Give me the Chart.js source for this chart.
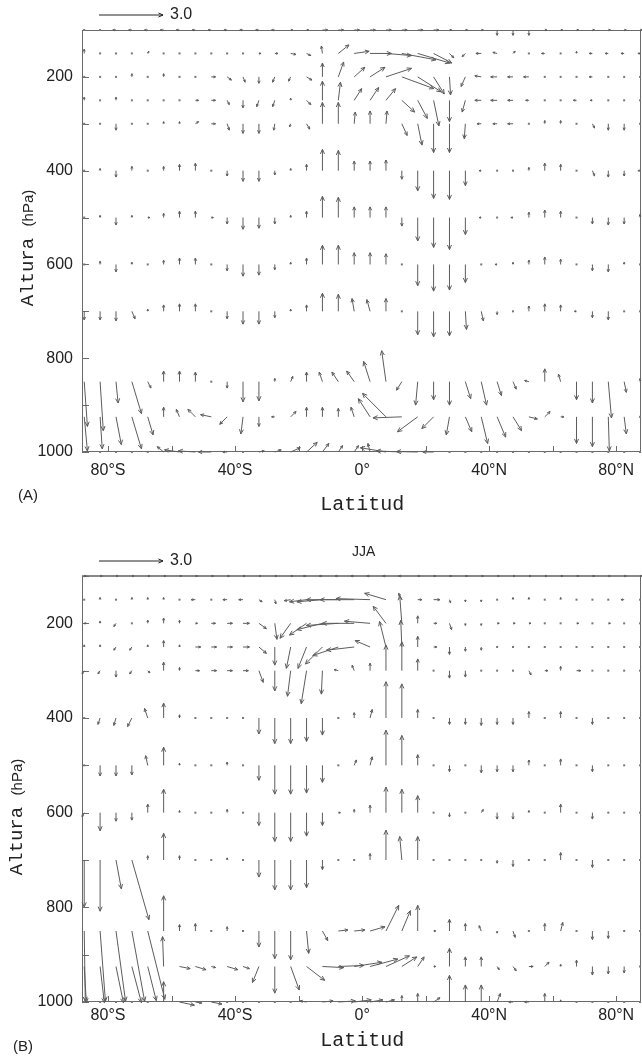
<!DOCTYPE html>
<html>
<head>
<meta charset="utf-8">
<style>
  body { margin: 0; background: #fff; }
  canvas { display: block; }
</style>
<script src="https://cdn.jsdelivr.net/npm/chart.js@4.4.1/dist/chart.umd.min.js"></script>
</head>
<body>
<canvas id="chartA" width="642" height="528"></canvas>
<canvas id="chartB" width="642" height="529"></canvas>
<script>
// grid of the vector field
const lats = [-87.5,-82.5,-77.5,-72.5,-67.5,-62.5,-57.5,-52.5,-47.5,-42.5,-37.5,-32.5,
  -27.5,-22.5,-17.5,-12.5,-7.5,-2.5,2.5,7.5,12.5,17.5,22.5,27.5,
  32.5,37.5,42.5,47.5,52.5,57.5,62.5,67.5,72.5,77.5,82.5,87.5]
const levels = [100,150,200,250,300,400,500,600,700,850,925,1000]

const yTicks = [100,200,300,400,500,600,700,800,900,1000]
const yLabels = [200,400,600,800,1000]
const xTicks = [-80,-60,-40,-20,0,20,40,60,80]
const xLabelAt = [-80,-40,0,40,80]
const xLabels = ['80°S','40°S','0°','40°N','80°N']

// panel A: meridional (v) and vertical (w) components, one row per level
const vA = [
  [0,0,-.15,-.15,-.15,-.15, -.15,-.15,-.15,-.15,-.15,-.15, -.15,.1,.1,.25,.25,.25, .25,.25,.25,.25,.25,.1, .1,.1,0,0,0,.1, .1,.1,.1,.1,.1,.1],
  [0,0,.05,.05,.05,0, .05,.05,.05,.05,.05,.1, .15,.25,.2,-.05,.5,.7, 1.0,1.2,1.6,1.5,.85,.2, -.15,-.25,-.2,.1,0,-.15, 0,0,-.15,-.15,-.15,-.1],
  [0,0,0,0,0,0, 0,.05,.2,.2,.1,0, -.1,-.1,.25,0,.25,.5, .7,1.2,1.5,1.1,.5,.05, -.2,-.3,-.3,-.25,-.25,0, 0,0,-.15,0,0,0],
  [0,0,0,0,0,0, 0,.15,.2,.1,0,-.1, -.1,0,.2,0,.1,.35, .4,.45,.6,.45,.25,0, -.15,-.3,-.3,-.25,-.15,0, 0,-.15,-.1,0,0,0],
  [0,0,0,0,0,0, 0,.15,.2,.1,0,0, -.05,-.05,.15,0,0,.05, 0,.05,.25,.2,0,0, -.05,-.2,-.2,-.25,0,0, 0,0,.1,0,0,0],
  [0,0,0,0,0,0, 0,0,0,0,0,0, 0,0,0,0,0,0, 0,0,0,0,0,0, 0,-.1,0,0,0,0, 0,.05,.1,0,0,-.1],
  [0,0,0,0,.1,0, 0,0,.1,0,0,0, 0,0,0,0,0,0, 0,0,0,0,0,0, 0,-.1,0,-.1,0,0, 0,0,0,0,0,0],
  [0,0,0,0,0,0, 0,0,.05,0,0,0, 0,0,0,0,0,0, 0,0,0,0,0,0, 0,0,-.1,0,0,0, 0,0,0,0,0,0],
  [0,0,0,.15,0,0, 0,0,0,0,0,0, 0,0,0,0,0,-.1, -.15,0,0,0,0,0, .05,.1,0,0,0,0, 0,-.1,0,0,0,0],
  [.15,.15,.1,.45,.15,0, 0,0,0,0,0,0, 0,.1,0,-.15,-.3,-.35, -.3,-.2,-.25,-.1,0,0, .25,.25,.2,.15,-.2,0, -.1,0,0,.15,.1,0],
  [.15,.1,.25,.45,.25,0, -.15,-.35,-.5,-.35,-.1,0, -.15,.25,0,0,0,-.15, -.55,-1.1,-1.35,-.95,-.55,-.15, .3,.3,.4,.4,.4,.25, .15,0,0,.05,.1,0],
  [0,0,0,0,0,-.3, -.7,-.8,-.6,-.2,0,.25, .3,.45,.5,.3,.2,.2, -.1,-1.2,-1.2,-1.0,-.5,0, 0,0,0,0,0,0, 0,0,0,0,0,0]
]
const wA = [
  [0,0,0,0,0,0, 0,0,0,0,0,0, 0,0,0,0,0,0, 0,0,0,0,0,0, 0,0,-.25,-.25,-.25,0, 0,0,0,0,0,0],
  [.2,0,0,0,.1,0, 0,0,0,0,0,0, 0,-.05,-.1,.35,.4,.1, 0,-.1,-.3,-.45,-.45,-.2, -.15,0,.05,.1,0,0, 0,.1,0,0,0,0],
  [0,0,0,.15,0,.15, 0,0,0,-.15,-.25,-.3, -.25,-.2,-.15,.65,.7,.45, .45,.4,-.55,-.7,-.8,-.85, -.45,.05,0,0,0,0, 0,0,0,0,0,0],
  [.15,0,.15,0,0,0, 0,0,0,-.2,-.35,-.3, -.3,.1,-.2,.9,.85,.55, .6,.55,-.55,-.85,-1.2,-1.0, -.55,0,0,0,0,0, 0,0,0,0,0,0],
  [0,0,-.3,0,0,.1, .1,.1,0,-.3,-.45,-.45, -.3,-.15,-.25,1.0,1.0,.55, .6,.6,-.55,-1.0,-1.35,-1.35, -.7,0,0,0,0,.15, .15,0,-.2,-.3,-.3,0],
  [0,.1,-.3,.2,0,.2, .3,.35,0,-.25,-.5,-.5, -.2,.1,.3,1.0,.95,.45, .45,.5,-.4,-.95,-1.3,-1.35, -.7,0,0,0,.15,.35, .3,0,-.25,-.3,-.25,0],
  [0,.1,-.35,.1,0,.2, .3,.3,0,-.3,-.55,-.5, -.3,.1,.3,1.0,.95,.5, .5,.5,-.4,-1.1,-1.4,-1.5, -.8,0,0,0,.25,.35, .3,0,-.3,-.35,-.3,.15],
  [0,.15,-.35,.1,0,.2, .3,.3,0,-.3,-.55,-.5, -.25,.1,.3,.9,.9,.55, .55,.5,0,-1.0,-1.25,-1.2, -.85,0,0,.1,.2,.35, .25,0,-.3,-.35,.1,0],
  [-.4,-.4,-.45,-.35,.1,.3, .35,.35,0,-.35,-.6,-.6, -.3,.1,.3,.85,.8,.6, .55,.6,0,-1.1,-1.2,-1.15, -.85,-.45,-.15,0,.25,.35, .3,0,-.3,-.4,0,0],
  [-2.1,-2.3,-1.0,-1.5,-.3,.5, .5,.45,0,-.3,-.95,-.9, .15,.25,.45,.45,.45,.5, .95,1.45,-.4,-1.1,-.85,-1.1, -.8,-1.1,-.65,-.35,.05,.6, .35,-.85,-1.0,-1.7,-.5,.15],
  [-1.6,-1.5,-1.3,-1.5,-.85,.45, .35,.35,.1,-.35,-.8,-.45, 0,.25,.45,.45,.4,.45, .85,1.1,-.05,-.7,-.55,-.85, -.7,-1.25,-.95,-.65,-.1,.25, 0,-1.25,-1.4,-1.6,-.8,0],
  [0,0,0,0,0,.25, .1,.05,0,0,0,.05, .1,.2,.45,.4,.3,.3, .4,.2,.05,.02,0,0, 0,0,0,0,0,0, 0,0,0,0,0,0]
]

// panel B (JJA)
const vB = [
  [.1,.1,.1,.1,.1,.1, .1,.1,.1,.1,.1,.1, .1,.1,-.15,-.15,-.15,-.15, -.15,-.15,-.15,.1,.1,.1, .1,.1,.1,.1,.1,.1, .1,.1,.1,.1,.1,.1],
  [0,0,0,0,0,0, 0,-.2,0,-.2,-.2,.15, .05,-.3,-.8,-1.2,-1.5,-1.6, -1.6,-1.0,-.15,.2,.3,.05, 0,0,0,0,0,0, 0,0,0,0,-.15,0],
  [.1,0,-.1,0,0,0, 0,.1,.2,.25,.3,.35, .1,-.5,-.8,-1.2,-1.5,-1.5, -1.2,-.6,-.1,0,.15,.1, 0,0,.1,.1,.1,0, 0,.1,0,.1,0,0],
  [0,0,-.1,-.1,0,0, 0,.25,.25,.25,.3,.35, 0,-.2,-.4,-.8,-1.2,-1.3, -.7,-.3,-.05,0,.15,0, 0,0,0,0,0,0, 0,0,0,0,0,0],
  [-.1,-.1,0,-.1,.1,0, 0,.2,.25,.25,.25,.2, 0,-.15,-.25,-.05,-.2,-.1, 0,0,0,0,0,0, 0,0,0,0,.1,.15, 0,.2,0,0,0,0],
  [0,-.1,-.1,-.2,-.15,0, 0,0,0,0,0,0, 0,0,0,0,0,0, .1,0,0,0,0,0, 0,0,0,0,0,0, 0,0,0,0,0,0],
  [0,0,0,0,-.1,0, 0,0,0,0,0,0, 0,0,0,0,0,.1, .1,0,0,0,0,0, 0,0,0,0,0,0, 0,0,0,0,0,0],
  [-.1,0,0,0,0,0, 0,0,0,0,0,0, 0,0,0,0,.1,0, 0,0,0,0,0,0, 0,.1,0,0,0,0, 0,0,0,0,0,0],
  [0,0,.25,.8,0,0, 0,0,0,0,0,0, 0,0,0,0,0,0, 0,0,-.1,0,0,0, 0,0,0,0,0,0, 0,0,0,0,0,0],
  [.05,.25,.45,.6,.8,0, 0,0,0,0,0,0, 0,0,.1,.25,.45,.5, .7,.6,.4,0,.1,0, 0,-.1,0,.1,0,0, .1,0,0,0,0,0],
  [.1,.2,.35,.45,.4,-.05, .5,.5,.2,.5,.3,-.3, 0,.4,.85,1.0,1.2,1.3, 1.3,1.1,.7,.3,.1,0, 0,0,.1,.15,.2,.2, 0,0,0,0,0,0],
  [0,0,0,0,0,0, .7,.3,.5,0,0,0, 0,0,-.3,.5,.8,.8, .6,.4,0,0,.3,0, 0,0,.15,-.2,-.2,0, 0,0,0,0,0,0]
]
const wB = [
  [0,0,0,0,0,0, 0,0,0,0,0,0, 0,0,0,0,0,0, 0,0,0,0,0,0, 0,0,0,0,0,0, 0,0,0,0,0,0],
  [0,.1,0,.1,.1,.1, 0,0,0,0,0,-.1, -.2,-.05,-.1,-.1,0,0, .05,.3,.3,0,0,-.15, -.1,-.1,0,.1,.1,0, .1,0,0,0,0,0],
  [0,.1,-.15,0,.15,.25, .15,0,0,0,0,-.25, -.75,-.7,-.55,-.3,-.1,0, .1,.8,1.3,.35,0,-.3, -.1,-.1,0,0,0,0, 0,0,0,0,0,0],
  [.1,.1,-.15,-.15,.1,.3, .1,0,0,0,0,-.3, -.85,-1.0,-1.0,-.8,-.4,-.15, .3,1.2,1.25,.5,0,-.35, -.2,-.15,0,0,0,0, 0,0,0,0,0,0],
  [-.15,-.15,-.3,-.15,-.1,.4, .15,0,0,0,0,-.55, -.95,-1.2,-1.55,-1.1,.05,.25, .35,1.2,1.35,.55,0,-.35, -.3,0,0,0,-.2,0, .2,0,0,0,0,0],
  [0,-.3,-.35,-.4,.45,.7, .15,0,0,0,0,-.75, -1.2,-1.2,-1.1,-.8,0,.25, .4,1.7,1.6,.4,0,-.3, -.3,-.35,-.3,-.3,.3,0, .3,0,-.3,0,0,0],
  [0,-.5,-.5,-.45,.45,.85, .1,0,0,.15,0,-.7, -1.35,-1.35,-1.3,-.8,0,.25, .4,1.65,1.4,.5,0,-.3, 0,-.35,-.3,-.3,.25,0, .3,0,-.3,0,0,0],
  [-.2,-.85,-.4,-.35,.4,1.1, .1,0,0,.15,0,-.6, -1.35,-1.35,-1.1,-.6,0,.15, .35,1.2,1.1,.8,0,-.2, 0,.15,-.3,-.3,.1,0, .4,0,-.3,0,0,0],
  [-2.2,-2.4,-1.35,-2.8,.2,1.25, .2,0,0,.1,0,-.8, -1.4,-1.4,-1.3,-.45,0,0, .3,1.4,1.1,1.1,0,0, 0,0,-.15,-.3,0,0, .35,0,-.35,0,0,0],
  [-3.3,-3.3,-3.3,-3.3,-3.2,1.65, .3,.35,0,.2,0,-.75, -1.3,-1.35,-1.05,-.45,.05,.05, .2,1.2,.95,1.2,0,.55, .35,.25,-.1,-.3,0,.35, .4,0,-.4,-.35,0,0],
  [-1.7,-1.7,-1.7,-1.7,-1.6,1.4, -.1,-.15,-.05,-.15,-.1,-.75, -1.25,-1.1,-.65,-.05,.05,.2, .35,.5,.45,.45,0,.85, .45,.45,-.15,-.2,0,.2, .1,.3,-.4,-.35,-.3,0],
  [0,0,0,0,0,.95, -.15,-.05,-.1,0,0,0, 0,0,.05,.05,.05,.1, .1,.1,.3,.4,.2,1.25, .8,.8,.4,0,0,.4, .1,0,0,0,0,0]
]

const refValue = 3.0
const UNIT = 64 / 3 // pixels per unit of the vector key
const SANS = '"Liberation Sans", Arial, sans-serif'
const MONO = '"Liberation Mono", "Courier New", monospace'

function buildPoints(v, w) {
  const pts = []
  levels.forEach((p, k) => {
    lats.forEach((lat, i) => {
      pts.push({ x: lat, y: p, v: v[k][i], w: w[k][i] })
    })
  })
  return pts
}

function drawArrow(ctx, x0, y0, x1, y1) {
  const dx = x1 - x0, dy = y1 - y0
  const len = Math.hypot(dx, dy)
  if (len < 2) {
    ctx.fillRect(x0 - 1, y0 - 1, 2, 2)
    return
  }
  ctx.beginPath()
  ctx.moveTo(x0, y0)
  ctx.lineTo(x1, y1)
  ctx.stroke()
  const a = Math.atan2(dy, dx)
  const h = Math.min(5, 1.5 + len * 0.2)
  ctx.beginPath()
  ctx.moveTo(x1 - h * Math.cos(a - 0.42), y1 - h * Math.sin(a - 0.42))
  ctx.lineTo(x1, y1)
  ctx.lineTo(x1 - h * Math.cos(a + 0.42), y1 - h * Math.sin(a + 0.42))
  ctx.stroke()
}

const quiver = {
  id: 'quiver',
  afterDatasetsDraw(chart) {
    const ctx = chart.ctx
    const ds = chart.data.datasets[0].data
    ctx.save()
    ctx.strokeStyle = '#5c5c5c'
    ctx.fillStyle = '#777'
    ctx.lineWidth = 1
    chart.getDatasetMeta(0).data.forEach((el, j) => {
      const d = ds[j]
      drawArrow(ctx, el.x, el.y, el.x + d.v * UNIT, el.y - d.w * UNIT)
    })
    ctx.restore()
  }
}

const frame = {
  id: 'frame',
  beforeDatasetsDraw(chart, args, o) {
    const { ctx, chartArea: a } = chart
    const x = chart.scales.x, y = chart.scales.y
    ctx.save()
    ctx.strokeStyle = '#6a6a6a'
    ctx.lineWidth = 1
    ctx.strokeRect(a.left + 0.5, a.top + 0.5, a.right - a.left - 1, a.bottom - a.top - 1)
    if (o.thickTop) {
      ctx.fillStyle = '#888'
      ctx.fillRect(a.left, a.top - 1, a.right - a.left, 2)
    }
    ctx.beginPath()
    yTicks.forEach(p => {
      const py = Math.round(y.getPixelForValue(p)) + 0.5
      ctx.moveTo(a.left, py)
      ctx.lineTo(a.left + 7, py)
    })
    xTicks.forEach(l => {
      const px = Math.round(x.getPixelForValue(l)) + 0.5
      ctx.moveTo(px, a.bottom)
      ctx.lineTo(px, a.bottom - 6)
    })
    ctx.stroke()

    ctx.fillStyle = '#222'
    ctx.font = '16px ' + SANS
    ctx.textAlign = 'right'
    ctx.textBaseline = 'middle'
    yLabels.forEach(p => ctx.fillText(String(p), a.left - 9, y.getPixelForValue(p)))
    ctx.textAlign = 'center'
    xLabels.forEach((t, k) => ctx.fillText(t, x.getPixelForValue(xLabelAt[k]), a.bottom + o.xLabelGap))

    // x title
    ctx.font = '20px ' + MONO
    ctx.fillText('Latitud', x.getPixelForValue(0), o.xTitleY)

    // y title: mixed fonts, rotated
    ctx.save()
    ctx.translate(o.yTitleX, o.yTitleY)
    ctx.rotate(-Math.PI / 2)
    ctx.textAlign = 'left'
    ctx.font = '19px ' + MONO
    const w1 = ctx.measureText('Altura ').width
    ctx.font = '15px ' + SANS
    const w2 = ctx.measureText('(hPa)').width
    let sx = -(w1 + w2) / 2
    ctx.font = '19px ' + MONO
    ctx.fillText('Altura ', sx, 0)
    ctx.font = '15px ' + SANS
    ctx.fillText('(hPa)', sx + w1, 1)
    ctx.restore()

    // panel tag
    ctx.font = '15px ' + SANS
    ctx.textAlign = 'left'
    ctx.fillText(o.tag, o.tagX, o.tagY)

    // vector key
    ctx.strokeStyle = '#222'
    drawArrow(ctx, 99, o.keyY, 99 + refValue * UNIT, o.keyY)
    ctx.font = '16px ' + SANS
    ctx.fillText(refValue.toFixed(1), 170, o.keyY)
    if (o.title) {
      ctx.font = '14px ' + SANS
      ctx.fillText(o.title, 352, o.titleY)
    }
    ctx.restore()
  }
}

function makeChart(id, v, w, pad, opts) {
  return new Chart(document.getElementById(id), {
    type: 'scatter',
    data: {
      datasets: [{
        data: buildPoints(v, w),
        pointRadius: 0,
        pointHoverRadius: 0
      }]
    },
    options: {
      responsive: false,
      animation: false,
      devicePixelRatio: 1,
      events: [],
      layout: { padding: pad },
      plugins: {
        legend: { display: false },
        tooltip: { enabled: false },
        frame: opts
      },
      scales: {
        x: { type: 'linear', min: -88.2, max: 87.8, display: false },
        y: { type: 'linear', min: 100, max: 1000, reverse: true, display: false }
      }
    },
    plugins: [frame, quiver]
  })
}

makeChart('chartA', vA, wA, { left: 82, top: 30, right: 1, bottom: 76 }, {
  xLabelGap: 19, xTitleY: 505, yTitleX: 28, yTitleY: 248,
  tag: '(A)', tagX: 18, tagY: 496, keyY: 15, title: null, thickTop: false
})
makeChart('chartB', vB, wB, { left: 82, top: 48, right: 1, bottom: 55 }, {
  xLabelGap: 14, xTitleY: 513, yTitleX: 17, yTitleY: 289,
  tag: '(B)', tagX: 13, tagY: 519, keyY: 33, title: 'JJA', titleY: 24, thickTop: true
})
</script>
</body>
</html>
